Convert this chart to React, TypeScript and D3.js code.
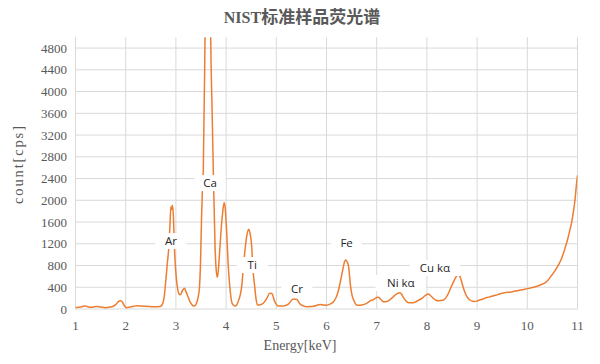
import React from "react";
import * as d3 from "d3";

const energies: number[] = [
  1.0, 1.05, 1.1, 1.15, 1.2, 1.25, 1.3, 1.35, 1.42, 1.5, 1.55, 1.6, 1.65, 1.7, 1.75, 1.8, 1.85, 1.9, 1.94, 1.98,
  2.02, 2.08, 2.15, 2.22, 2.3, 2.38, 2.48, 2.58, 2.68, 2.72, 2.76, 2.8, 2.83, 2.86, 2.88, 2.9, 2.915, 2.93, 2.95, 2.97,
  3.0, 3.03, 3.06, 3.09, 3.13, 3.17, 3.2, 3.24, 3.28, 3.32, 3.35, 3.38, 3.41, 3.45, 3.47, 3.49, 3.51, 3.53, 3.546, 3.58,
  3.61, 3.64, 3.67, 3.693, 3.72, 3.745, 3.78, 3.81, 3.83, 3.86, 3.9, 3.93, 3.96, 3.98, 4.01, 4.04, 4.08, 4.12, 4.18, 4.24,
  4.31, 4.34, 4.37, 4.41, 4.45, 4.47, 4.51, 4.53, 4.57, 4.6, 4.63, 4.68, 4.74, 4.81, 4.87, 4.91, 4.97, 5.04, 5.14, 5.24,
  5.34, 5.41, 5.47, 5.54, 5.61, 5.68, 5.74, 5.8, 5.87, 5.94, 6.0, 6.07, 6.14, 6.2, 6.24, 6.28, 6.31, 6.36, 6.38, 6.41,
  6.44, 6.48, 6.51, 6.54, 6.6, 6.65, 6.7, 6.8, 6.87, 6.93, 7.0, 7.03, 7.08, 7.13, 7.18, 7.23, 7.3, 7.37, 7.45, 7.49,
  7.53, 7.58, 7.63, 7.7, 7.76, 7.83, 7.9, 7.97, 8.03, 8.08, 8.13, 8.18, 8.23, 8.28, 8.33, 8.38, 8.43, 8.48, 8.53, 8.58,
  8.61, 8.65, 8.68, 8.72, 8.76, 8.8, 8.85, 8.89, 8.94, 8.99, 9.05, 9.12, 9.19, 9.26, 9.33, 9.4, 9.46, 9.53, 9.6, 9.66,
  9.73, 9.79, 9.86, 9.93, 10.0, 10.06, 10.12, 10.2, 10.28, 10.36, 10.42, 10.49, 10.55, 10.62, 10.67, 10.72, 10.76, 10.8, 10.84, 10.88,
  10.92, 10.95, 10.98, 11.0,
];

const counts: number[] = [
  25, 30, 35, 50, 55, 40, 30, 35, 45, 35, 30, 25, 30, 35, 50, 80, 130, 150, 120, 50,
  25, 35, 50, 60, 55, 50, 45, 40, 45, 70, 180, 530, 850, 1145, 1500, 1880, 1830, 1910, 1700, 1145,
  660, 400, 280, 260, 340, 380, 320, 230, 135, 80, 55, 60, 105, 250, 400, 840, 1640, 2250, 2556, 5000,
  7500, 8500, 7500, 5000, 3700, 2556, 1145, 655, 583, 900, 1450, 1760, 1955, 1880, 1450, 840, 350, 105, 55, 135,
  410, 717, 1025, 1330, 1465, 1420, 1145, 800, 410, 165, 75, 80, 105, 195, 290, 285, 135, 55, 55, 90,
  185, 175, 90, 55, 42, 45, 50, 65, 85, 75, 70, 90, 135, 230, 350, 520, 655, 870, 900, 870,
  780, 410, 250, 165, 75, 70, 75, 105, 150, 170, 210, 215, 180, 135, 135, 150, 200, 260, 300, 280,
  215, 150, 115, 115, 125, 160, 195, 250, 275, 240, 195, 160, 150, 155, 165, 210, 290, 400, 500, 590,
  625, 610, 540, 410, 300, 225, 170, 150, 140, 145, 165, 185, 210, 225, 245, 260, 280, 295, 310, 310,
  325, 335, 350, 360, 375, 385, 400, 420, 450, 485, 540, 625, 700, 810, 900, 1025, 1145, 1270, 1420, 1575,
  1800, 2005, 2300, 2460,
];

const xTicks: number[] = [1, 2, 3, 4, 5, 6, 7, 8, 9, 10, 11];
const yTicks: number[] = [0, 400, 800, 1200, 1600, 2000, 2400, 2800, 3200, 3600, 4000, 4400, 4800];

const labelNames: string[] = ["Ar", "Ca", "Ti", "Cr", "Fe", "Ni kα", "Cu kα"];
const labelEnergies: number[] = [2.9, 3.68, 4.52, 5.41, 6.4, 7.48, 8.16];
const labelCounts: number[] = [1250, 2317, 809, 368, 1214, 478, 754];

const title = "NIST标准样品荧光谱";
const xTitle = "Energy[keV]";
const yTitle = "count[cps]";

export default function App() {
  const W = 600;
  const H = 364;
  const left = 75.5;
  const right = 577.5;
  const top = 37.2;
  const bottom = 309;

  const x = d3.scaleLinear().domain([1, 11]).range([left, right]);
  const y = d3.scaleLinear().domain([0, 5000]).range([bottom, top]);

  const pts: [number, number][] = energies.map((e, i) => [e, counts[i]]);
  const line = d3
    .line<[number, number]>()
    .x((d) => x(d[0]))
    .y((d) => y(d[1]))
    .curve(d3.curveMonotoneX);

  const serif = "'Liberation Serif', 'Times New Roman', serif";
  const gray = "#595959";
  const grid = "#d9d9d9";

  return (
    <svg
      width={W}
      height={H}
      style={{ position: "absolute", left: 0, top: 0, background: "#fff" }}
    >
      <defs>
        <clipPath id="plotClip">
          <rect x={left} y={top} width={right - left} height={bottom - top} />
        </clipPath>
      </defs>
      <rect x={0} y={0} width={W} height={H} fill="#fff" />
      <text x={302} y={23} textAnchor="middle" fill={gray} fontWeight="bold">
        <tspan fontFamily={serif} fontSize={16}>{title.slice(0, 4)}</tspan>
        <tspan fontFamily="'Noto Sans CJK SC', sans-serif" fontSize={17}>{title.slice(4)}</tspan>
      </text>
      {yTicks.map((t) => (
        <line key={"h" + t} x1={left} x2={right} y1={y(t)} y2={y(t)} stroke={grid} strokeWidth={1} />
      ))}
      {xTicks.map((t) => (
        <line key={"v" + t} x1={x(t)} x2={x(t)} y1={top} y2={bottom} stroke={grid} strokeWidth={1} />
      ))}
      <path
        d={line(pts) || ""}
        fill="none"
        stroke="#ed7d31"
        strokeWidth={1.5}
        strokeLinejoin="round"
        clipPath="url(#plotClip)"
      />
      {labelNames.map((n, i) => {
        const cx = x(labelEnergies[i]);
        const cy = y(labelCounts[i]);
        const w = n.length * 6.5 + 18;
        const h = 16;
        return (
          <g key={n}>
            <rect x={cx - w / 2} y={cy - h / 2} width={w} height={h} fill="#fff" />
            <text
              x={cx}
              y={cy + 4}
              textAnchor="middle"
              fontFamily="'Open Sans', 'Noto Sans', sans-serif"
              fontSize={11.5}
              fill="#262626"
            >
              {n}
            </text>
          </g>
        );
      })}
      {yTicks.map((t) => (
        <text key={"yl" + t} x={67} y={y(t) + 4.5} textAnchor="end" fontFamily={serif} fontSize={13} fill={gray}>
          {t}
        </text>
      ))}
      {xTicks.map((t) => (
        <text key={"xl" + t} x={x(t)} y={330} textAnchor="middle" fontFamily={serif} fontSize={13} fill={gray}>
          {t}
        </text>
      ))}
      <text x={300} y={350} textAnchor="middle" fontFamily={serif} fontSize={14} fill={gray}>
        {xTitle}
      </text>
      <text
        transform="translate(23,165) rotate(-90)"
        textAnchor="middle"
        fontFamily={serif}
        fontSize={14.5}
        fill={gray}
        textLength={78}
        lengthAdjust="spacing"
      >
        {yTitle}
      </text>
    </svg>
  );
}
